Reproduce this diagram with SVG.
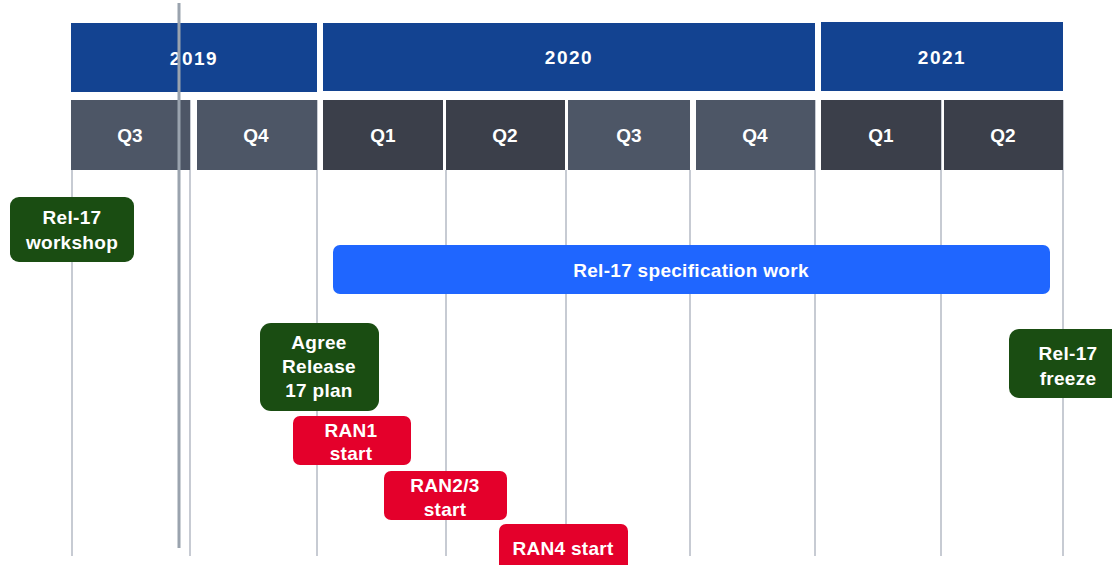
<svg xmlns="http://www.w3.org/2000/svg" width="1112" height="565" viewBox="0 0 1112 565">
  <style>
    .year { fill: #134391; }
    .qa { fill: #4d5666; }
    .qb { fill: #3b3f4a; }
    .grid { stroke: #b4bac4; stroke-width: 1.5; fill: none; }
    .today { stroke: #9aa3ae; stroke-width: 3; fill: none; }
    .lbl { font-family: "Liberation Sans", Arial, sans-serif; font-weight: bold; fill: #ffffff; text-anchor: middle; }
    .hdr { font-size: 19px; letter-spacing: 1.5px; }
    .qtr { font-size: 19px; }
    .box { font-size: 19px; letter-spacing: 0.3px; }
    .green { fill: #1a4d12; }
    .red { fill: #e4002b; }
    .blue { fill: #1f66ff; }
  </style>
  <rect width="1112" height="565" fill="#ffffff"/>

  <!-- quarter grid lines -->
  <g id="connectors">
    <line class="grid" x1="72" y1="170" x2="72" y2="556"/>
    <line class="grid" x1="190" y1="100" x2="190" y2="556"/>
    <line class="grid" x1="317" y1="100" x2="317" y2="556"/>
    <line class="grid" x1="446" y1="170" x2="446" y2="556"/>
    <line class="grid" x1="566" y1="170" x2="566" y2="556"/>
    <line class="grid" x1="690" y1="170" x2="690" y2="556"/>
    <line class="grid" x1="815" y1="100" x2="815" y2="556"/>
    <line class="grid" x1="941" y1="100" x2="941" y2="556"/>
    <line class="grid" x1="1063" y1="100" x2="1063" y2="556"/>
  </g>

  <!-- years -->
  <g id="year-2019"><rect class="year" x="71" y="23" width="246" height="69"/><text class="lbl hdr" x="194" y="65">2019</text></g>
  <g id="year-2020"><rect class="year" x="323" y="23" width="492" height="68"/><text class="lbl hdr" x="569" y="64">2020</text></g>
  <g id="year-2021"><rect class="year" x="821" y="22" width="242" height="69"/><text class="lbl hdr" x="942" y="64">2021</text></g>

  <!-- quarters -->
  <g id="q3-2019"><rect class="qa" x="71" y="100" width="119" height="70"/><text class="lbl qtr" x="130" y="142">Q3</text></g>
  <g id="q4-2019"><rect class="qa" x="197" y="100" width="120" height="70"/><text class="lbl qtr" x="256" y="142">Q4</text></g>
  <g id="q1-2020"><rect class="qb" x="323" y="100" width="120" height="70"/><text class="lbl qtr" x="383" y="142">Q1</text></g>
  <g id="q2-2020"><rect class="qb" x="446" y="100" width="119" height="70"/><text class="lbl qtr" x="505" y="142">Q2</text></g>
  <g id="q3-2020"><rect class="qa" x="568" y="100" width="122" height="70"/><text class="lbl qtr" x="629" y="142">Q3</text></g>
  <g id="q4-2020"><rect class="qa" x="696" y="100" width="119" height="70"/><text class="lbl qtr" x="755" y="142">Q4</text></g>
  <g id="q1-2021"><rect class="qb" x="821" y="100" width="120" height="70"/><text class="lbl qtr" x="881" y="142">Q1</text></g>
  <g id="q2-2021"><rect class="qb" x="944" y="100" width="119" height="70"/><text class="lbl qtr" x="1003" y="142">Q2</text></g>

  <!-- current date marker -->
  <line class="today" x1="179" y1="3" x2="179" y2="548"/>

  <!-- milestones -->
  <g id="workshop">
    <rect class="green" x="10" y="197" width="124" height="65" rx="9"/>
    <text class="lbl box" x="72" y="224">Rel-17</text>
    <text class="lbl box" x="72" y="249">workshop</text>
  </g>
  <g id="spec-work">
    <rect class="blue" x="333" y="245" width="717" height="49" rx="7"/>
    <text class="lbl box" x="691" y="277">Rel-17 specification work</text>
  </g>
  <g id="agree-plan">
    <rect class="green" x="260" y="323" width="119" height="88" rx="11"/>
    <text class="lbl box" x="319" y="349">Agree</text>
    <text class="lbl box" x="319" y="373">Release</text>
    <text class="lbl box" x="319" y="397">17 plan</text>
  </g>
  <g id="freeze">
    <rect class="green" x="1009" y="329" width="115" height="69" rx="10"/>
    <text class="lbl box" x="1068" y="360">Rel-17</text>
    <text class="lbl box" x="1068" y="385">freeze</text>
  </g>
  <g id="ran1">
    <rect class="red" x="293" y="416" width="118" height="49" rx="7"/>
    <text class="lbl box" x="351" y="437">RAN1</text>
    <text class="lbl box" x="351" y="460">start</text>
  </g>
  <g id="ran23">
    <rect class="red" x="384" y="471" width="123" height="49" rx="7"/>
    <text class="lbl box" x="445" y="492">RAN2/3</text>
    <text class="lbl box" x="445" y="516">start</text>
  </g>
  <g id="ran4">
    <rect class="red" x="499" y="524" width="129" height="50" rx="7"/>
    <text class="lbl box" x="563" y="555">RAN4 start</text>
  </g>
</svg>
